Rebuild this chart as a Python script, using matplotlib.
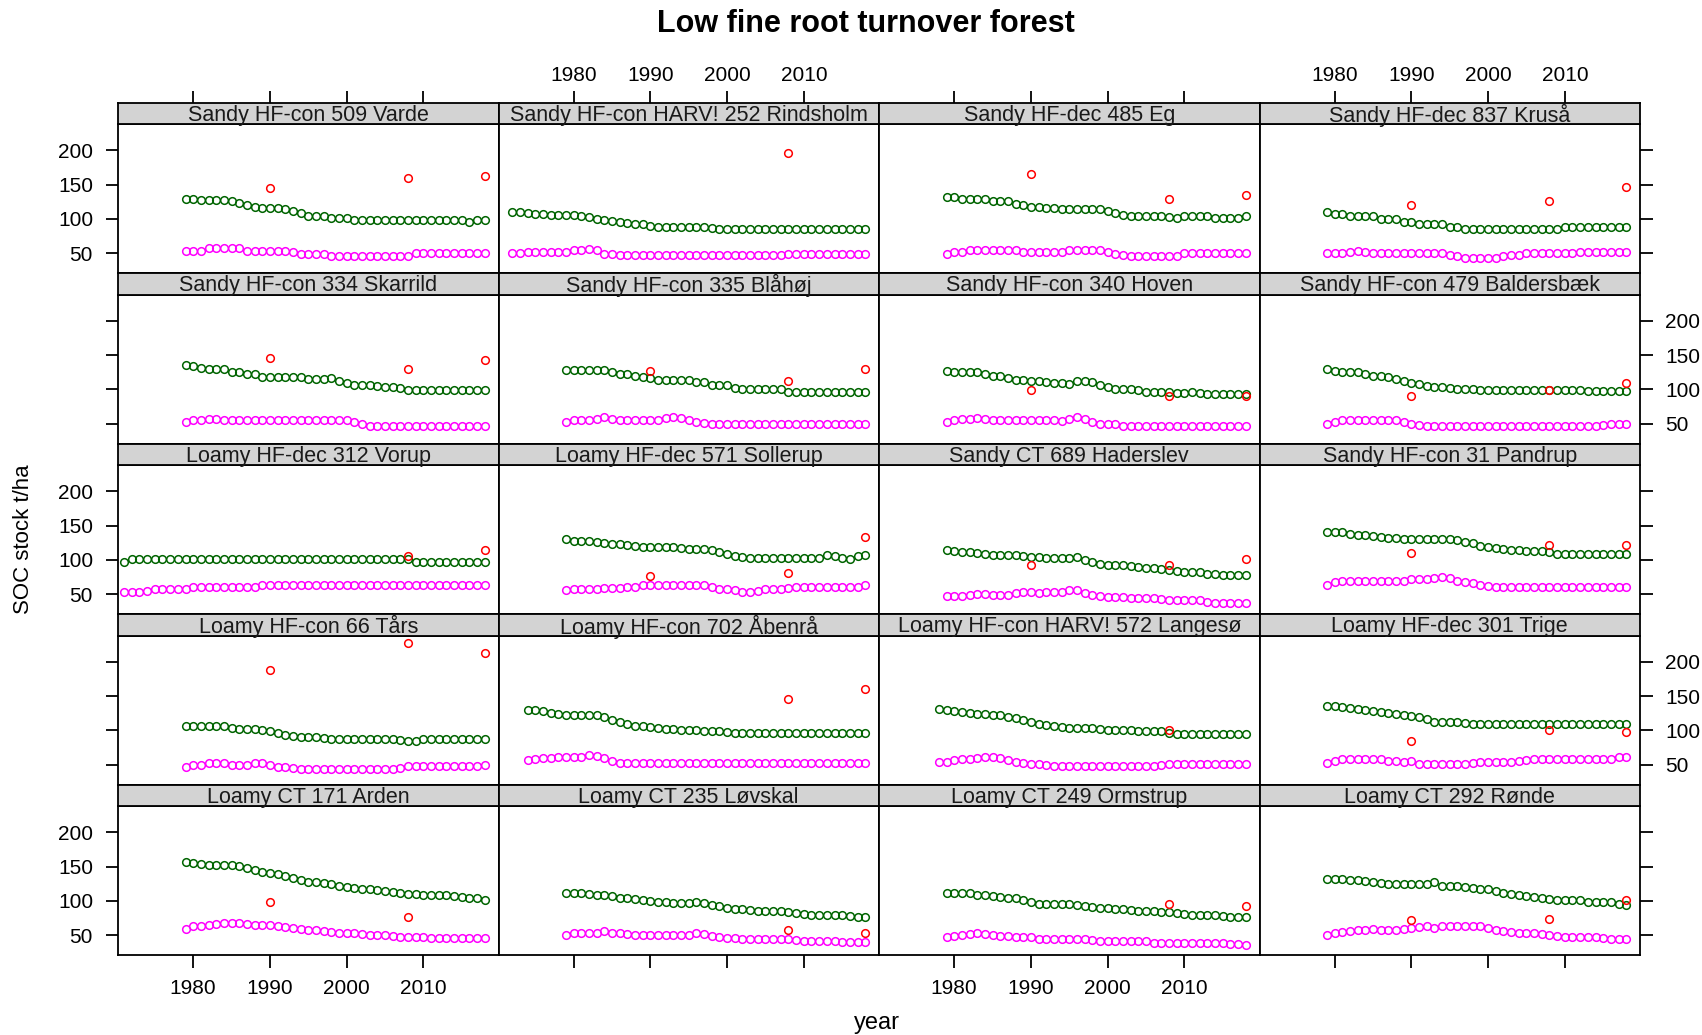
import matplotlib
matplotlib.use("Agg")
import matplotlib.pyplot as plt
import numpy as np

plt.rcParams['font.family'] = ['Liberation Sans', 'DejaVu Sans']

panel_titles = [
    "Sandy HF-con 509 Varde", "Sandy HF-con HARV! 252 Rindsholm", "Sandy HF-dec 485 Eg", "Sandy HF-dec 837 Kruså",
    "Sandy HF-con 334 Skarrild", "Sandy HF-con 335 Blåhøj", "Sandy HF-con 340 Hoven", "Sandy HF-con 479 Baldersbæk",
    "Loamy HF-dec 312 Vorup", "Loamy HF-dec 571 Sollerup", "Sandy CT 689 Haderslev", "Sandy HF-con 31 Pandrup",
    "Loamy HF-con 66 Tårs", "Loamy HF-con 702 Åbenrå", "Loamy HF-con HARV! 572 Langesø", "Loamy HF-dec 301 Trige",
    "Loamy CT 171 Arden", "Loamy CT 235 Løvskal", "Loamy CT 249 Ormstrup", "Loamy CT 292 Rønde",
]

# simulated SOC, upper series (green); yearly values ending in 2018
green_vals = [
    [129, 129, 127, 127, 127, 127, 126, 123, 120, 117, 116, 116, 116, 114, 111, 108, 105, 104, 104, 102,
     102, 101, 99, 98, 98, 98, 98, 98, 98, 98, 98, 98, 98, 98, 98, 98, 98, 96, 98, 98],
    [110, 110, 108, 107, 107, 106, 106, 106, 106, 105, 103, 100, 98, 97, 96, 94, 93, 93, 90, 89,
     88, 88, 88, 88, 88, 88, 87, 86, 85, 85, 85, 85, 85, 85, 85, 85, 85, 85, 85, 85,
     85, 85, 85, 85, 85, 85, 85],
    [132, 132, 129, 129, 129, 129, 126, 126, 126, 122, 121, 118, 117, 116, 116, 115, 115, 115, 115, 115,
     114, 112, 108, 106, 104, 104, 104, 104, 104, 103, 101, 104, 104, 104, 104, 101, 101, 101, 101, 104],
    [110, 107, 107, 104, 104, 104, 104, 100, 100, 100, 95, 95, 93, 93, 93, 93, 88, 88, 85, 85,
     85, 85, 85, 85, 85, 85, 85, 85, 85, 85, 85, 88, 88, 88, 88, 88, 88, 88, 88, 88],
    [135, 134, 131, 130, 130, 130, 126, 126, 122, 122, 118, 118, 118, 118, 118, 118, 115, 115, 115, 117,
     112, 110, 107, 106, 106, 105, 103, 103, 102, 99, 99, 99, 99, 99, 99, 99, 99, 99, 99, 99],
    [129, 129, 128, 128, 128, 128, 125, 123, 122, 120, 118, 117, 114, 114, 114, 114, 114, 111, 111, 107,
     106, 106, 102, 101, 101, 101, 101, 100, 100, 97, 96, 96, 96, 96, 96, 96, 96, 96, 96, 96],
    [127, 126, 126, 126, 126, 122, 119, 119, 116, 114, 114, 113, 112, 111, 110, 109, 108, 112, 113, 111,
     106, 104, 101, 101, 100, 99, 97, 96, 96, 96, 95, 95, 96, 95, 93, 93, 93, 93, 93, 93],
    [130, 127, 126, 126, 125, 122, 120, 119, 118, 115, 113, 110, 108, 105, 104, 103, 102, 101, 101, 100,
     99, 99, 99, 99, 99, 99, 99, 99, 99, 99, 99, 99, 99, 99, 98, 98, 98, 98, 98, 98],
    [97, 101, 101, 101, 101, 101, 101, 101, 101, 101, 101, 101, 101, 101, 101, 101, 101, 101, 101, 101,
     101, 101, 101, 101, 101, 101, 101, 101, 101, 101, 101, 101, 101, 101, 101, 101, 101, 101, 97, 97,
     97, 97, 97, 97, 97, 97, 97, 97],
    [130, 128, 127, 127, 126, 124, 123, 123, 122, 120, 119, 119, 119, 119, 119, 117, 116, 116, 116, 114,
     111, 108, 106, 104, 103, 103, 103, 103, 103, 103, 103, 103, 103, 103, 107, 106, 103, 102, 106, 107],
    [114, 113, 111, 111, 110, 108, 107, 107, 107, 107, 106, 105, 104, 103, 103, 103, 103, 105, 100, 97,
     94, 93, 92, 92, 91, 90, 88, 88, 87, 86, 84, 82, 82, 82, 80, 79, 78, 78, 78, 78],
    [141, 141, 140, 138, 137, 137, 135, 133, 132, 132, 131, 130, 130, 130, 130, 130, 130, 129, 126, 124,
     121, 119, 117, 116, 115, 114, 113, 113, 113, 111, 109, 109, 109, 109, 109, 109, 109, 109, 109, 109],
    [107, 107, 107, 107, 107, 107, 104, 102, 102, 102, 101, 99, 96, 94, 92, 91, 90, 90, 89, 88,
     88, 88, 88, 88, 88, 88, 88, 88, 86, 85, 84, 88, 88, 88, 88, 88, 88, 88, 88, 88],
    [130, 130, 128, 126, 124, 123, 123, 123, 123, 123, 119, 115, 112, 110, 107, 106, 105, 103, 102, 102,
     101, 100, 100, 99, 99, 99, 98, 96, 96, 96, 96, 96, 96, 96, 96, 96, 96, 96, 96, 96,
     96, 96, 96, 96, 96],
    [131, 130, 128, 127, 125, 124, 124, 123, 122, 120, 118, 115, 113, 110, 108, 106, 105, 104, 104, 103,
     103, 102, 101, 100, 100, 100, 99, 99, 99, 99, 97, 95, 95, 95, 95, 95, 95, 95, 95, 95, 95],
    [135, 135, 134, 132, 131, 130, 128, 127, 126, 124, 122, 121, 119, 116, 113, 112, 112, 112, 111, 110,
     110, 110, 110, 110, 110, 110, 110, 110, 110, 110, 110, 110, 110, 110, 110, 110, 110, 110, 110, 110],
    [157, 155, 154, 152, 152, 152, 152, 151, 148, 145, 142, 141, 139, 137, 133, 130, 128, 127, 126, 124,
     122, 121, 119, 118, 117, 116, 115, 113, 111, 110, 110, 109, 108, 108, 108, 107, 106, 105, 105, 102],
    [112, 112, 112, 110, 109, 109, 107, 105, 104, 103, 102, 100, 99, 98, 97, 97, 97, 99, 97, 94,
     92, 90, 89, 88, 87, 86, 86, 86, 85, 84, 82, 81, 80, 80, 79, 79, 79, 78, 77, 77],
    [112, 112, 112, 111, 109, 108, 107, 106, 105, 104, 101, 99, 96, 95, 95, 95, 95, 94, 93, 91,
     90, 90, 89, 88, 87, 86, 86, 85, 84, 84, 83, 81, 80, 80, 80, 80, 78, 77, 77, 77],
    [132, 132, 132, 131, 130, 129, 128, 126, 124, 124, 124, 124, 124, 125, 127, 122, 122, 122, 121, 119,
     118, 117, 114, 112, 110, 108, 107, 106, 105, 103, 102, 102, 102, 101, 99, 99, 99, 98, 96, 94],
]

# simulated SOC, lower series (magenta); yearly values ending in 2018
magenta_vals = [
    [54, 54, 54, 57, 58, 58, 58, 57, 54, 54, 54, 54, 54, 54, 52, 49, 49, 49, 49, 46,
     46, 46, 46, 46, 46, 46, 46, 46, 46, 46, 50, 50, 50, 50, 50, 50, 50, 50, 50, 50],
    [50, 50, 52, 52, 52, 52, 52, 52, 55, 55, 56, 55, 49, 49, 47, 47, 47, 47, 47, 47,
     47, 47, 47, 47, 47, 47, 47, 47, 47, 47, 47, 47, 47, 47, 47, 47, 49, 49, 49, 49,
     49, 49, 49, 49, 49, 49, 49],
    [49, 52, 52, 55, 55, 55, 55, 55, 55, 55, 52, 52, 52, 52, 52, 52, 55, 55, 55, 55,
     55, 52, 49, 47, 46, 46, 46, 46, 46, 46, 46, 50, 50, 50, 50, 50, 50, 50, 50, 50],
    [50, 50, 50, 52, 53, 52, 50, 50, 50, 50, 50, 50, 50, 50, 50, 50, 48, 46, 43, 43,
     43, 43, 43, 46, 47, 47, 50, 50, 50, 50, 50, 50, 50, 52, 52, 52, 52, 52, 52, 52],
    [52, 55, 56, 57, 57, 56, 55, 55, 55, 55, 55, 55, 55, 55, 55, 55, 55, 55, 55, 55,
     55, 55, 52, 49, 47, 47, 47, 47, 47, 47, 47, 47, 47, 47, 47, 47, 47, 47, 47, 47],
    [53, 56, 56, 56, 57, 60, 57, 56, 56, 55, 55, 55, 56, 59, 60, 59, 56, 53, 51, 50,
     50, 50, 50, 50, 50, 50, 50, 50, 50, 50, 50, 50, 50, 50, 50, 50, 50, 50, 50, 50],
    [52, 55, 57, 57, 59, 57, 56, 56, 56, 56, 56, 56, 56, 56, 56, 54, 57, 60, 57, 53,
     50, 50, 49, 47, 47, 47, 47, 47, 47, 47, 47, 47, 47, 47, 47, 47, 47, 47, 47, 47],
    [49, 53, 55, 56, 56, 56, 56, 56, 56, 55, 52, 50, 48, 47, 47, 47, 47, 47, 47, 47,
     47, 47, 47, 47, 47, 47, 47, 47, 47, 47, 47, 47, 47, 47, 47, 47, 48, 49, 50, 50],
    [53, 53, 53, 55, 57, 57, 57, 57, 57, 60, 60, 60, 60, 60, 60, 60, 60, 60, 63, 63,
     63, 63, 63, 63, 63, 63, 63, 63, 63, 63, 63, 63, 63, 63, 63, 63, 63, 63, 63, 63,
     63, 63, 63, 63, 63, 63, 63, 63],
    [56, 57, 57, 58, 58, 59, 59, 59, 61, 61, 63, 63, 63, 63, 63, 63, 63, 63, 63, 60,
     57, 57, 56, 53, 53, 55, 57, 57, 58, 59, 61, 61, 61, 61, 61, 61, 61, 61, 61, 63],
    [48, 48, 48, 49, 51, 50, 49, 49, 49, 52, 53, 53, 52, 54, 54, 54, 56, 56, 52, 49,
     47, 46, 46, 46, 45, 45, 44, 44, 43, 42, 41, 41, 41, 41, 39, 38, 38, 38, 38, 38],
    [64, 68, 70, 70, 70, 70, 70, 70, 69, 69, 70, 72, 72, 72, 73, 75, 73, 70, 68, 66,
     64, 62, 61, 60, 60, 60, 60, 60, 60, 60, 60, 60, 60, 60, 60, 60, 60, 60, 60, 60],
    [47, 49, 50, 52, 53, 52, 50, 50, 50, 52, 53, 50, 47, 47, 46, 44, 44, 44, 44, 44,
     44, 44, 44, 44, 44, 44, 44, 44, 46, 48, 48, 48, 48, 48, 48, 48, 48, 48, 48, 50],
    [57, 58, 60, 60, 61, 61, 61, 61, 64, 63, 60, 56, 53, 52, 52, 52, 52, 52, 52, 52,
     52, 52, 52, 52, 52, 52, 52, 52, 52, 52, 52, 52, 52, 52, 52, 52, 52, 52, 52, 52,
     52, 52, 52, 52, 52],
    [54, 54, 57, 58, 58, 60, 61, 61, 60, 57, 54, 53, 51, 51, 49, 48, 48, 48, 48, 48,
     48, 48, 48, 48, 48, 48, 48, 48, 48, 49, 51, 51, 51, 51, 51, 51, 51, 51, 51, 51, 51],
    [53, 55, 58, 58, 58, 58, 58, 58, 56, 55, 54, 56, 51, 51, 51, 51, 51, 51, 51, 52,
     54, 54, 54, 54, 54, 55, 57, 58, 58, 58, 58, 58, 58, 58, 58, 58, 58, 59, 61, 61],
    [59, 63, 64, 65, 66, 68, 68, 68, 66, 65, 65, 65, 64, 62, 61, 59, 57, 57, 56, 55,
     54, 54, 53, 52, 51, 51, 51, 49, 48, 48, 48, 47, 46, 46, 46, 46, 46, 46, 46, 46],
    [51, 53, 53, 53, 54, 56, 54, 54, 52, 51, 51, 51, 51, 51, 51, 51, 51, 54, 52, 49,
     47, 46, 46, 45, 45, 45, 45, 45, 45, 44, 43, 42, 42, 42, 42, 41, 40, 40, 40, 40],
    [47, 49, 50, 52, 53, 52, 50, 49, 49, 48, 47, 47, 45, 44, 44, 44, 44, 44, 44, 43,
     42, 42, 42, 42, 42, 42, 42, 39, 39, 39, 39, 39, 39, 39, 39, 39, 39, 38, 37, 36],
    [51, 53, 55, 56, 57, 58, 59, 57, 57, 58, 59, 60, 62, 63, 60, 63, 63, 63, 64, 64,
     63, 60, 58, 56, 55, 54, 53, 53, 52, 50, 49, 48, 48, 48, 48, 47, 46, 45, 45, 44],
]

# measured SOC (red points)
red_years = [
    [1990, 2008, 2018], [2008], [1990, 2008, 2018], [1990, 2008, 2018],
    [1990, 2008, 2018], [1990, 2008, 2018], [1990, 2008, 2018], [1990, 2008, 2018],
    [2008, 2018], [1990, 2008, 2018], [1990, 2008, 2018], [1990, 2008, 2018],
    [1990, 2008, 2018], [2008, 2018], [2008], [1990, 2008, 2018],
    [1990, 2008], [2008, 2018], [2008, 2018], [1990, 2008, 2018],
]
red_vals = [
    [145, 159, 162], [196], [165, 129, 135], [121, 126, 146],
    [146, 130, 143], [127, 112, 130], [99, 90, 91], [90, 99, 110],
    [106, 114], [76, 81, 133], [92, 92, 101], [110, 122, 122],
    [188, 227, 213], [146, 160], [101], [84, 101, 98],
    [99, 76], [57, 54], [96, 92], [72, 74, 101],
]

x_ticks = [1980, 1990, 2000, 2010]
y_ticks = [50, 100, 150, 200]

W, H = 1702, 1035
left0, col_w = 118, 380.5
top0, row_h, strip_h = 102.7, 170.5, 21.5
lw = 1.3
fs = 15


def fig_rect(x, y, w, h):
    return [x / W, 1 - (y + h) / H, w / W, h / H]


def style_ticks(ax, axis, sides, labels):
    kw = {s: (s in sides) for s in ['top', 'bottom', 'left', 'right']}
    kw.update({'label' + s: (s in labels) for s in ['top', 'bottom', 'left', 'right']})
    ax.tick_params(axis=axis, which='both', direction='out', length=9, width=lw,
                   labelsize=fs, **kw)


def draw_panel(fig, i):
    r, c = divmod(i, 4)
    x0 = left0 + c * col_w
    y0 = top0 + r * row_h

    ax = fig.add_axes(fig_rect(x0, y0 + strip_h, col_w, row_h - strip_h))
    st = fig.add_axes(fig_rect(x0, y0, col_w, strip_h), sharex=ax)

    g = green_vals[i]
    m = magenta_vals[i]
    ax.plot(np.arange(2019 - len(g), 2019), g, 'o', mfc='none', mec='#006400', ms=5.5, mew=1.1)
    ax.plot(np.arange(2019 - len(m), 2019), m, 'o', mfc='none', mec='#ff00ff', ms=5.5, mew=1.1)
    ax.plot(red_years[i], red_vals[i], 'o', mfc='none', mec='#ff0000', ms=5.5, mew=1.1)

    ax.set_xlim(1970.2, 2019.8)
    ax.set_ylim(21, 238)
    ax.set_xticks(x_ticks)
    ax.set_yticks(y_ticks)
    for sp in ax.spines.values():
        sp.set_linewidth(lw)

    # strip
    st.set_facecolor('#d3d3d3')
    st.set_ylim(0, 1)
    st.set_yticks([])
    for sp in st.spines.values():
        sp.set_linewidth(lw)
    st.text(0.5, 0.42, panel_titles[i], transform=st.transAxes, ha='center', va='center',
            fontsize=15.5, color='#1a1a1a')

    # x ticks: top on strip of first row, bottom on last row (alternating labels)
    xs = []
    xl = []
    if r == 4:
        xs.append('bottom')
        if c in (0, 2):
            xl.append('bottom')
    style_ticks(ax, 'x', xs, xl)
    ax.tick_params(axis='x', pad=8)
    sts = ['top'] if r == 0 else []
    stl = ['top'] if (r == 0 and c in (1, 3)) else []
    style_ticks(st, 'x', sts, stl)
    st.tick_params(axis='x', pad=4)

    ys = []
    yl = []
    if c == 0:
        ys.append('left')
        if r in (0, 2, 4):
            yl.append('left')
    if c == 3:
        ys.append('right')
        if r in (1, 3):
            yl.append('right')
    style_ticks(ax, 'y', ys, yl)
    ax.tick_params(axis='y', which='both', pad=9)


fig = plt.figure(figsize=(W / 100, H / 100), dpi=100)
for i in range(len(panel_titles)):
    draw_panel(fig, i)

fig.text(866 / W, 1 - 24 / H, "Low fine root turnover forest", ha='center', va='center',
         fontsize=22, fontweight='bold')
fig.text(877 / W, 1 - 1023 / H, "year", ha='center', va='center', fontsize=17)
fig.text(24 / W, 1 - 539 / H, "SOC stock t/ha", ha='center', va='center', rotation=90, fontsize=16)

fig.savefig("out.png", dpi=100)
